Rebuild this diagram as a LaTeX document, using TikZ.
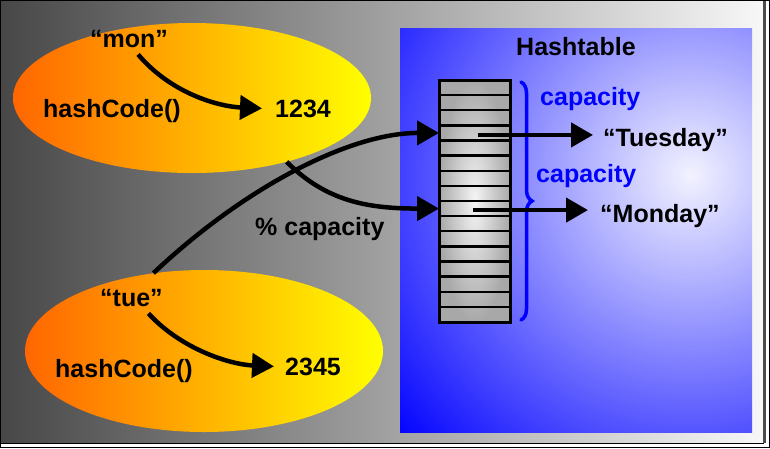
\documentclass[tikz,border=0pt]{standalone}
\usepackage{fontspec}
\setmainfont{Liberation Sans}
\usetikzlibrary{arrows.meta}
\usetikzlibrary{shapes.geometric}
\usetikzlibrary{decorations.pathreplacing}
\definecolor{hot1}{HTML}{FF6600}
\definecolor{hot2}{HTML}{FFFF00}
\tikzset{>={Triangle[length = 22pt, width = 24pt]}}
\tikzset{
  txt/.style = {inner sep = 0pt, anchor = base west, font = \fontsize{25}{30}\selectfont\bfseries},
  blob/.style = {ellipse, inner sep = 0pt, left color = hot1, right color = hot2},
  slot/.style = {draw, line width = 2.3pt, inner sep = 0pt, outer sep = 0pt, minimum width = 71pt, minimum height = 15.125pt},
  curvy/.style = {->, line width = 4.5pt}
}

\begin{document}
\begin{tikzpicture}[x = 1pt, y = -1pt]
\useasboundingbox (0,0) rectangle (770,448);

% slide frame
\fill[white] (0,0) rectangle (770,448);
\shade[left color = black!72, right color = black!3] (0,0) rectangle (764,443);
\draw[black!70, line width = 3pt] (764.5,0) -- (764.5,443);
\draw[line width = 1pt] (0,443) -- (764,443);
\draw[line width = 1.2pt] (0.5,0.5) rectangle (769.5,447.5);

% hashtable panel
\begin{scope}
\clip (400,28) rectangle (752,432);
\shade[inner color = blue!5!white, outer color = blue] (690,175) circle (395);
\end{scope}
\node[txt] (title) at (516,55) {Hashtable};

% buckets
\shade[inner color = black!4, outer color = black!34] (439,80) rectangle (510,322);
\foreach \i in {1,...,16}
  \node[slot] (s\i) at (474.5, {80 + 15.125*(\i - 0.5)}) {};
\draw[line width = 3pt] (439,80) rectangle (510,322);

\draw[blue, line width = 3.5pt, line cap = round, decorate, decoration = {brace, amplitude = 11pt}] (521,82) -- (521,320);
\node[txt, blue] (capA) at (540,105) {capacity};
\node[txt, blue] (capB) at (536,182) {capacity};

\node[txt] (tuesday) at (603,146) {“Tuesday”};
\node[txt] (monday) at (600,222) {“Monday”};
\draw[curvy, shorten > = 10pt] ([xshift = 3.5pt, yshift = -2pt]s4.center) -- ([yshift = -2pt]s4.center -| tuesday.west);
\draw[curvy, shorten > = 12pt] ([xshift = -1.5pt, yshift = -1.5pt]s9.center) -- ([yshift = -1.5pt]s9.center -| monday.west);

% keys
\node[blob, minimum width = 358pt, minimum height = 150pt] (eA) at (192,98) {};
\node[blob, minimum width = 358pt, minimum height = 162pt] (eB) at (204,351) {};

\node[txt] (mon) at (90,47) {“mon”};
\node[txt] (hashA) at (43,117) {hashCode()};
\node[txt] (codeA) at (275,117) {1234};
\draw[curvy] ([xshift = 9pt, yshift = -7pt]mon.south) .. controls +(32,38) and +(-45,-2) .. ([xshift = -13pt]codeA.west);

\node[txt] (tue) at (100,306) {“tue”};
\node[txt] (hashB) at (55,377) {hashCode()};
\node[txt] (codeB) at (285,375) {2345};
\draw[curvy] ([xshift = 17pt, yshift = -7pt]tue.south) .. controls +(32,35) and +(-45,-2) .. ([xshift = -11pt]codeB.west);

% modulo
\node[txt] (mod) at (255,235) {\% capacity};
\draw[curvy] (eB.123) .. controls +(90,-85) and +(-90,0) .. (s4.west);
\draw[curvy] (eA.-34) .. controls +(40,40) and +(-70,0) .. (s9.west);

\end{tikzpicture}
\end{document}
